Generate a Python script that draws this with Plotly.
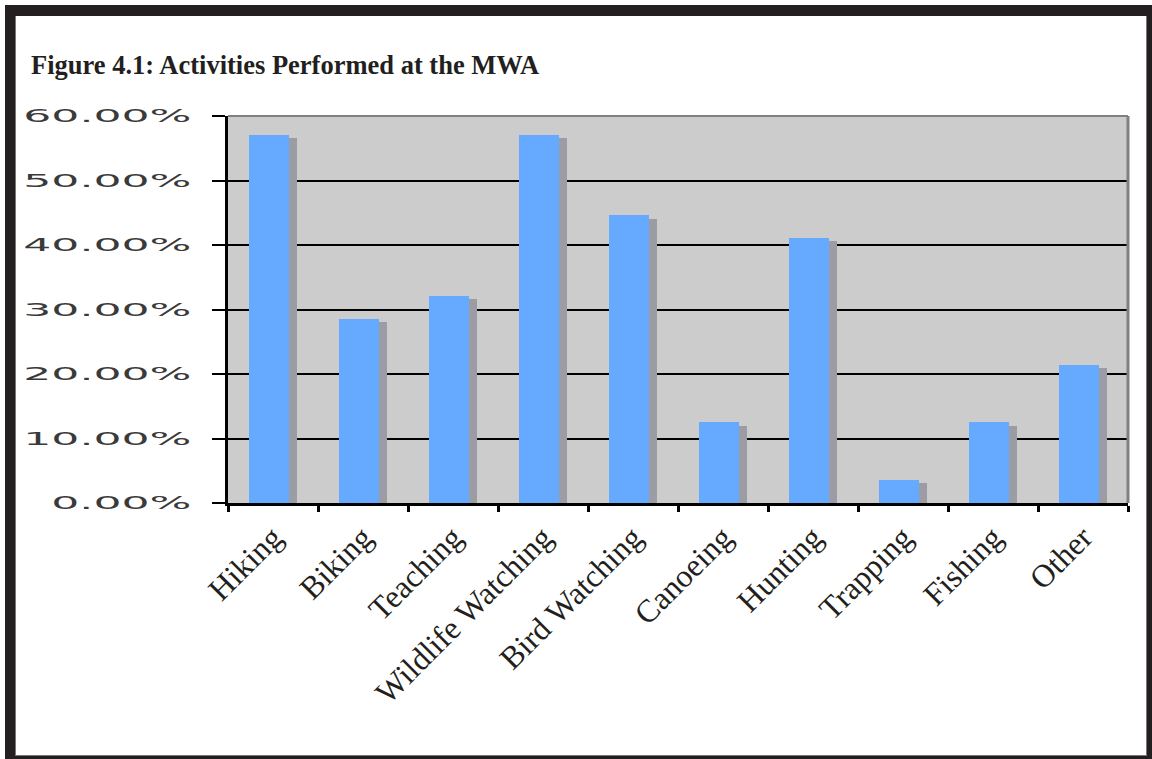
import plotly.graph_objects as go

# ---- data ----
categories = ["Hiking", "Biking", "Teaching", "Wildlife Watching", "Bird Watching",
              "Canoeing", "Hunting", "Trapping", "Fishing", "Other"]
percent_values = [57.1, 28.6, 32.1, 57.1, 44.6, 12.5, 41.1, 3.6, 12.5, 21.4]
y_tick_values = [0, 10, 20, 30, 40, 50, 60]
y_tick_labels = ["0.00%", "10.00%", "20.00%", "30.00%", "40.00%", "50.00%", "60.00%"]
title_text = "Figure 4.1: Activities Performed at the MWA"

# ---- geometry (pixels) ----
W, H = 1152, 759
PL, PR, PT, PB = 228, 1128, 116, 503


def px(x):
    return (x - PL) / (PR - PL)


def py(y):
    return (PB - y) / (PB - PT)


DARK = "#231f20"
shadow_drop = 0.5  # shadow top sits slightly lower than bar top

fig = go.Figure()
fig.add_trace(go.Bar(
    x=categories, y=[v - shadow_drop for v in percent_values],
    width=0.444, offset=-0.178,
    marker=dict(color="#9c9ca4", line=dict(width=0)),
    hoverinfo="skip", showlegend=False,
))
fig.add_trace(go.Bar(
    x=categories, y=percent_values,
    width=0.444, offset=-0.267,
    marker=dict(color="#66aaff", line=dict(width=0)),
    showlegend=False,
))

shapes = []
# plot frame: gray top and right edges
shapes.append(dict(type="line", xref="paper", yref="paper", x0=0, x1=1, y0=1, y1=1,
                   line=dict(color="#808080", width=2), layer="above"))
shapes.append(dict(type="line", xref="paper", yref="paper", x0=1, x1=1, y0=0, y1=1,
                   line=dict(color="#808080", width=3), layer="above"))


def band(x0, y0, x1, y1, color):
    shapes.append(dict(type="rect", xref="paper", yref="paper",
                       x0=px(x0), x1=px(x1), y0=py(y1), y1=py(y0),
                       fillcolor=color, line=dict(width=0), layer="above"))


# outer document border
band(5, 5, 1152, 16, DARK)
band(5, 5, 15, 759, DARK)
band(1147, 5, 1152, 759, DARK)
band(5, 756, 1152, 759, DARK)
band(15, 16, 16, 756, "#777777")
band(1146, 16, 1147, 756, "#777777")
band(15, 755, 1147, 756, "#777777")

fig.update_layout(
    width=W, height=H,
    margin=dict(l=PL, r=W - PR, t=PT, b=H - PB, pad=0),
    paper_bgcolor="white",
    plot_bgcolor="#cccccc",
    barmode="overlay",
    bargap=0,
    showlegend=False,
    shapes=shapes,
    annotations=[dict(
        text=title_text, xref="paper", yref="paper",
        x=px(29), y=py(65), xanchor="left", yanchor="middle", showarrow=False,
        font=dict(family="Liberation Serif", size=26.5, color=DARK, weight="bold"),
    )],
)

fig.update_xaxes(
    type="category",
    showline=True, linecolor="black", linewidth=3,
    ticks="outside", tickson="boundaries", ticklen=6, tickwidth=3, tickcolor="black",
    tickangle=-45,
    tickfont=dict(family="Liberation Serif", size=32, color=DARK),
    showgrid=False, zeroline=False,
)
fig.update_yaxes(
    range=[0, 60],
    tickvals=y_tick_values, ticktext=y_tick_labels,
    showline=True, linecolor="black", linewidth=3,
    ticks="outside", ticklen=13, tickwidth=2, tickcolor="black",
    showgrid=True, gridcolor="black", gridwidth=2,
    zeroline=False,
    tickfont=dict(family="DejaVu Sans", size=18, color="#3a3a3a"),
    ticklabelstandoff=17,
)

post = """
var gd = document.getElementById('{plot_id}');
function stretchY(){
  var ticks = gd.querySelectorAll('g.ytick');
  if (!ticks.length) return;
  var right = -Infinity;
  ticks.forEach(function(g){ g.removeAttribute('transform'); });
  ticks.forEach(function(g){
    var t = g.querySelector('text');
    if (!t) return;
    var bb = t.getBBox();
    var e = 0;
    try {
      var c = t.transform.baseVal.consolidate();
      if (c) { e = c.matrix.e; }
    } catch (err) {}
    right = Math.max(right, bb.x + bb.width + e);
  });
  ticks.forEach(function(g){
    g.setAttribute('transform', 'translate(' + right + ',0) scale(2.45,1) translate(' + (-right) + ',0)');
  });
}
stretchY();
if (gd.on) { gd.on('plotly_afterplot', stretchY); }
"""

fig.write_html("out.html", post_script=post)
